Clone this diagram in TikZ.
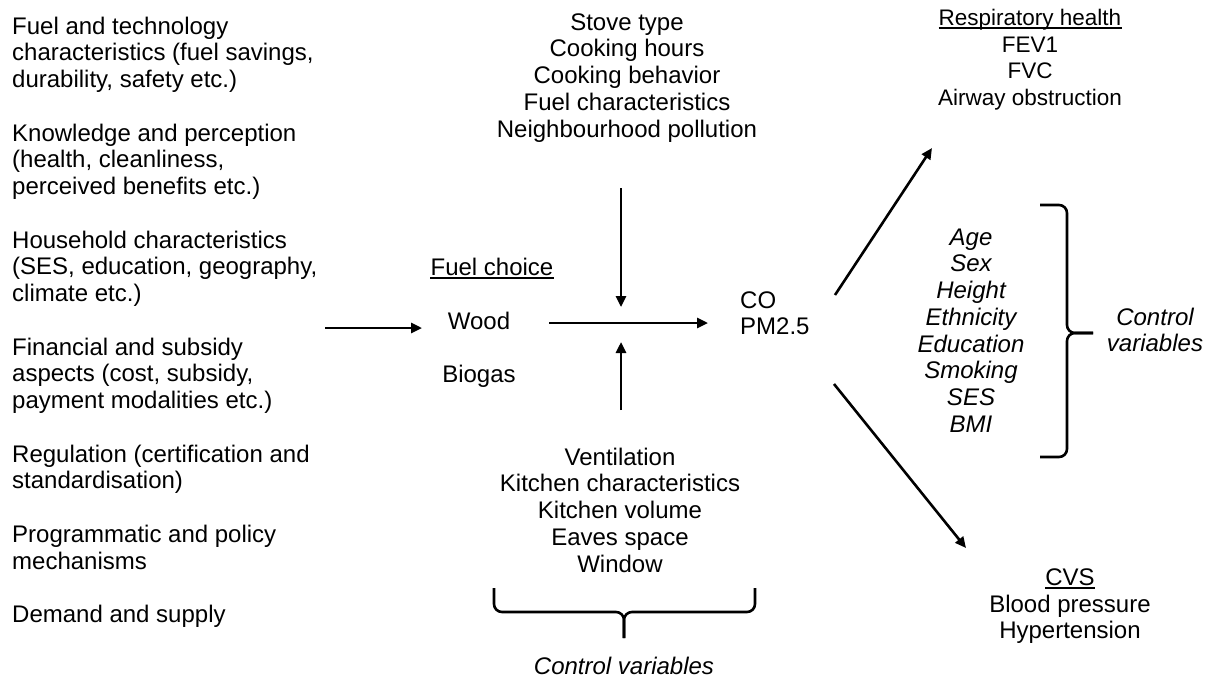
\documentclass[tikz,border=0pt]{standalone}
\usepackage{fontspec}
\setmainfont{Liberation Sans}
\usetikzlibrary{arrows.meta}
\begin{document}
\begin{tikzpicture}[x=1pt,y=-1pt,
  txt/.style={inner sep=0pt, font=\fontsize{24}{26.75}\selectfont},
  stxt/.style={inner sep=0pt, font=\fontsize{22.5}{26.75}\selectfont},
  itxt/.style={txt, font=\fontsize{24}{26.75}\selectfont\itshape},
  arr/.style={line width=2.6pt, -{Triangle[length=11pt,width=10pt]}},
  bracestyle/.style={line width=2.6pt, rounded corners=8pt},
  uline/.style={line width=1.6pt}]
\useasboundingbox (0,0) rectangle (1219,681);

% multi-line nodes are placed by the baseline of their LAST line
% left column (first baseline 34, 23 rows)
\node[txt, anchor=base west, align=left] (left) at (12,622.5) {Fuel and technology\\characteristics (fuel savings,\\durability, safety etc.)\\[26.75pt]Knowledge and perception\\(health, cleanliness,\\perceived benefits etc.)\\[26.75pt]Household characteristics\\(SES, education, geography,\\climate etc.)\\[26.75pt]Financial and subsidy\\aspects (cost, subsidy,\\payment modalities etc.)\\[26.75pt]Regulation (certification and\\standardisation)\\[26.75pt]Programmatic and policy\\mechanisms\\[26.75pt]Demand and supply};

% fuel choice
\node[txt, anchor=base] (fc) at (492,275) {Fuel choice};
\draw[uline] ([yshift=-3pt]fc.base west) -- ([yshift=-3pt]fc.base east);
\node[txt, anchor=base] (wood) at (479,329) {Wood};
\node[txt, anchor=base] (biogas) at (479,382) {Biogas};

% top and bottom centre blocks
\node[txt, anchor=base, align=center] (top) at (627,137) {Stove type\\Cooking hours\\Cooking behavior\\Fuel characteristics\\Neighbourhood pollution};
\node[txt, anchor=base, align=center] (bottom) at (620,572) {Ventilation\\Kitchen characteristics\\Kitchen volume\\Eaves space\\Window};
\node[itxt, anchor=base] (cvb) at (624,674) {Control variables};

% pollutants
\node[txt, anchor=base west, align=left] (poll) at (740,334.75) {CO\\PM2.5};

% respiratory
\node[stxt, anchor=base] (resp) at (1030,25) {Respiratory health};
\draw[uline] ([yshift=-3pt]resp.base west) -- ([yshift=-3pt]resp.base east);
\node[stxt, anchor=base, align=center] (respl) at (1030,105.5) {FEV1\\FVC\\Airway obstruction};

% controls
\node[itxt, anchor=base, align=center] (ctrl) at (971,432.25) {Age\\Sex\\Height\\Ethnicity\\Education\\Smoking\\SES\\BMI};
\node[itxt, anchor=base, align=center] (cvr) at (1155,351.75) {Control\\variables};

% CVS
\node[txt, anchor=base] (cvs) at (1070,585) {CVS};
\draw[uline] ([yshift=-3pt]cvs.base west) -- ([yshift=-3pt]cvs.base east);
\node[txt, anchor=base, align=center] (cvsl) at (1070,638.75) {Blood pressure\\Hypertension};

% arrow end points
\coordinate (la0) at (325,328); \coordinate (la1) at (422,328);
\coordinate (ma0) at (549,323); \coordinate (ma1) at (708,323);
\coordinate (da0) at (621,188); \coordinate (da1) at (621,307);
\coordinate (ua0) at (621,410); \coordinate (ua1) at (621,342);
\coordinate (ud0) at (835,295); \coordinate (ud1) at (932,148);
\coordinate (ld0) at (834,384); \coordinate (ld1) at (966,548);

\draw[arr] (la0) -- (la1);
\draw[arr] (ma0) -- (ma1);
\draw[arr] (da0) -- (da1);
\draw[arr] (ua0) -- (ua1);
\draw[arr] (ud0) -- (ud1);
\draw[arr] (ld0) -- (ld1);

% braces
\draw[bracestyle] (494,588) -- (494,612) -- (624,612) -- (624,638);
\draw[bracestyle] (755,588) -- (755,612) -- (624,612) -- (624,638);
\draw[bracestyle] (1040,205) -- (1067,205) -- (1067,333) -- (1093,333);
\draw[bracestyle] (1040,457) -- (1067,457) -- (1067,333) -- (1093,333);
\end{tikzpicture}
\end{document}
